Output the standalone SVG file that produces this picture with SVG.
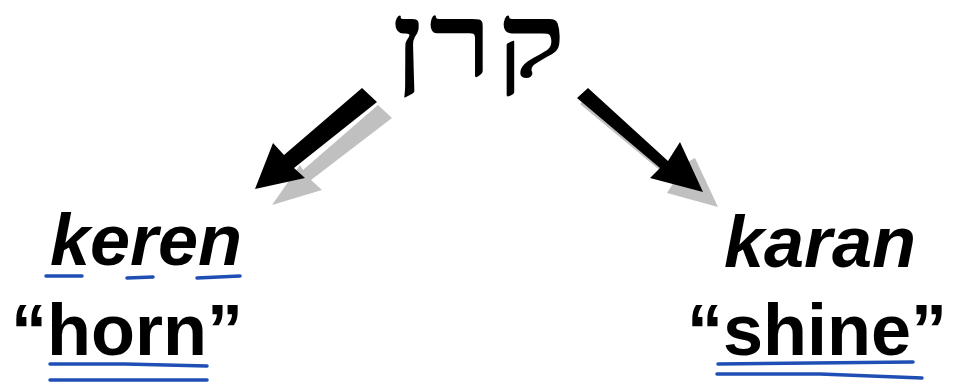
<svg xmlns="http://www.w3.org/2000/svg" width="956" height="388" viewBox="0 0 956 388">
<style>
.heb{font-family:"Liberation Serif","DejaVu Serif",serif;font-weight:bold;font-size:104px;fill:#000}
.it{font-family:"Liberation Sans",Arial,sans-serif;font-weight:bold;font-style:italic;font-size:72px;fill:#000}
.bd{font-family:"Liberation Sans",Arial,sans-serif;font-weight:bold;font-size:72px;fill:#000}
.ul{stroke:#1f4fb4;stroke-width:3.5;stroke-linecap:round;fill:none}
.shadow{fill:#c0c0c0}
.arrow{fill:#000}
</style>
<rect width="956" height="388" fill="#fff"/>
<g id="connectors">
  <polygon class="shadow" points="378,105 392,118 311,180 322,190 272,205 300,165 303,170"/>
  <polygon class="arrow" points="362,88 377,102 294,168 305,178 255,189 273,143 284,155"/>
  <polygon class="shadow" points="580,104 591,92 673,170 695,158 718,207 667,193 674,182"/>
  <polygon class="arrow" points="577,98 588,88 668,161 680,142 703,192 650,178 660,168"/>
</g>
<g id="hebrew">
  <text class="heb" x="481" y="77" text-anchor="middle" letter-spacing="3" transform="translate(481,0) scale(1.25,1) translate(-481,0)">קרן</text>
</g>
<g id="keren">
  <text class="it" x="146" y="265" text-anchor="middle">keren</text>
  <path class="ul" d="M46,276 L82,276"/>
  <path class="ul" d="M127,278 L153,277"/>
  <path class="ul" d="M197,278 L240,276"/>
</g>
<g id="horn">
  <text class="bd" x="127" y="355" text-anchor="middle">“horn”</text>
  <path class="ul" d="M50,364 L125,364 L207,366"/>
  <path class="ul" d="M50,380 L207,380"/>
</g>
<g id="karan">
  <text class="it" x="820" y="267" text-anchor="middle">karan</text>
</g>
<g id="shine">
  <text class="bd" x="817" y="355" text-anchor="middle">“shine”</text>
  <path class="ul" d="M718,364 L913,362"/>
  <path class="ul" d="M717,374 L820,374 L922,378"/>
</g>
</svg>
